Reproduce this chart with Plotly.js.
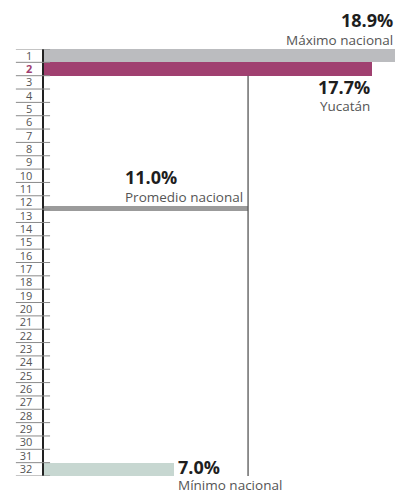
<!DOCTYPE html>
<html>
<head>
<meta charset="utf-8">
<script src="https://cdn.plot.ly/plotly-3.0.1.min.js"></script>
<style>html,body{margin:0;padding:0;background:#fff;}#chart{width:400px;height:494px;}</style>
</head>
<body>
<div id="chart"></div>
<script>
// Data
const ranks = Array.from({length: 32}, (_, i) => i + 1);
const rankLabels = ranks.map(r => String(r));
const highlightRank = 2;
const barRanks = [1, 2, 12, 32];
const barValues = [18.9, 17.7, 11.0, 7.0];
const barColors = ['#BBBCBF', '#A04070', '#9B9B9B', '#C7D7D1'];
const pctLabels = ['18.9%', '17.7%', '11.0%', '7.0%'];
const nameLabels = ['Máximo nacional', 'Yucatán', 'Promedio nacional', 'Mínimo nacional'];
const averageValue = 11.0;

const barWidths = barRanks.map(r => r === 12 ? 0.35 : 1);
const barOffsets = barRanks.map(r => r === 12 ? 0.26 : -0.5);

const trace = {
  type: 'bar',
  orientation: 'h',
  x: barValues,
  y: barRanks,
  width: barWidths,
  offset: barOffsets,
  marker: {color: barColors, line: {width: 0}},
  hoverinfo: 'skip'
};

const ticktext = rankLabels.map((t, i) => ranks[i] === highlightRank
  ? '<span style="color:#A04070"><b>' + t + '</b></span>' : t);

const shapes = [];
// row separators next to the rank labels
[0].concat(ranks).forEach(r => {
  shapes.push({type: 'line', xref: 'paper', yref: 'y',
    x0: -0.079, x1: 0.017, y0: r + 0.5, y1: r + 0.5,
    line: {color: '#8a8a8a', width: 1}});
});
// average vertical line
shapes.push({type: 'line', xref: 'x', yref: 'y',
  x0: averageValue, x1: averageValue, y0: 2.5, y1: 32.5,
  line: {color: '#555555', width: 1.3}});

const bold = {family: 'Open Sans, sans-serif', size: 18, color: '#1e1e1e', weight: 700};
const reg = {family: 'Open Sans, sans-serif', size: 13.5, color: '#555555'};

const ann = [];
// convert pixel y (from top of page) to paper coordinates
const T = 49.3, B = 475.7;
const py = p => (B - p) / (B - T);
const px = p => (p - 44) / 356;
function add(xref, xv, xa, yv, text, font, xshift) {
  ann.push({xref: xref, yref: 'paper', x: xv, y: yv, xanchor: xa, yanchor: 'middle',
    xshift: xshift || 0, text: text, showarrow: false, font: font});
}
add('x', barValues[0], 'right', py(20), '<b>' + pctLabels[0] + '</b>', bold);
add('x', barValues[0], 'right', py(40), nameLabels[0], reg);
add('x', barValues[1], 'right', py(87), '<b>' + pctLabels[1] + '</b>', bold);
add('x', barValues[1], 'right', py(106), nameLabels[1], reg);
add('paper', px(123), 'left', py(177), '<b>' + pctLabels[2] + '</b>', bold);
add('paper', px(123), 'left', py(197), nameLabels[2], reg);
add('x', barValues[3], 'left', py(467), '<b>' + pctLabels[3] + '</b>', bold, 2);
add('x', barValues[3], 'left', py(485), nameLabels[3], reg, 2);

const layout = {
  width: 400, height: 494,
  margin: {l: 44, r: 0, t: 49.3, b: 18.3, pad: 0},
  paper_bgcolor: '#ffffff', plot_bgcolor: '#ffffff',
  showlegend: false,
  bargap: 0,
  xaxis: {range: [0, 19.19], visible: false, fixedrange: true},
  yaxis: {range: [32.5, 0.5], tickmode: 'array', tickvals: ranks, ticktext: ticktext,
    showgrid: false, zeroline: false, showline: true, linecolor: '#222222', linewidth: 2.5,
    ticks: '', ticklabelstandoff: 7,
    tickfont: {family: 'Open Sans, sans-serif', size: 11, color: '#555555'}},
  shapes: shapes,
  annotations: ann
};

Plotly.newPlot('chart', [trace], layout, {displayModeBar: false, staticPlot: true});
</script>
</body>
</html>
